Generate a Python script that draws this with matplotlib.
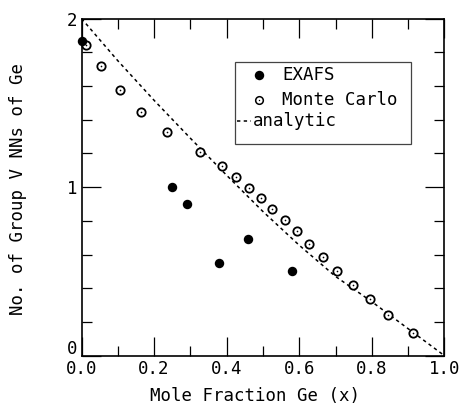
import matplotlib
matplotlib.use("Agg")
import matplotlib.pyplot as plt
from matplotlib.patches import Rectangle
from matplotlib.ticker import MultipleLocator

# EXAFS measurements
exafs_x = [0.0, 0.25, 0.29, 0.38, 0.46, 0.58]
exafs_y = [1.87, 1.00, 0.90, 0.55, 0.69, 0.50]

# Monte Carlo simulation
mc_x = [0.012, 0.053, 0.106, 0.163, 0.235, 0.326, 0.387, 0.426, 0.462, 0.494,
        0.525, 0.561, 0.594, 0.628, 0.664, 0.705, 0.747, 0.795, 0.845, 0.912]
mc_y = [1.845, 1.719, 1.575, 1.446, 1.326, 1.211, 1.126, 1.062, 0.997, 0.938,
        0.872, 0.807, 0.740, 0.663, 0.588, 0.503, 0.420, 0.335, 0.242, 0.133]

# analytic curve
an_x = [0.0, 0.1, 0.2, 0.3, 0.4, 0.5, 0.6, 0.7, 0.8, 0.9, 1.0]
an_y = [2.0, 1.75, 1.515, 1.29, 1.07, 0.855, 0.655, 0.47, 0.32, 0.16, 0.0]

plt.rcParams['font.family'] = ['DejaVu Sans Mono']
plt.rcParams['font.size'] = 12.5

fig = plt.figure(figsize=(4.59, 4.05), dpi=100)
ax = fig.add_axes([0.1776, 0.1217, 0.7908, 0.8324])

dash = (0, (2.2, 2.2))
ax.plot(an_x, an_y, color='black', lw=1.1, linestyle=dash)
ax.plot(mc_x, mc_y, 'o', mfc='white', mec='black', ms=6, mew=1.3, clip_on=False)
ax.plot(mc_x, mc_y, 'o', color='black', ms=1.2, mew=0, clip_on=False)
ax.plot(exafs_x, exafs_y, 'o', color='black', ms=6.8, mew=0, clip_on=False)

ax.set_xlim(0, 1.0)
ax.set_ylim(0, 2)
ax.xaxis.set_major_locator(MultipleLocator(0.2))
ax.xaxis.set_minor_locator(MultipleLocator(0.1))
ax.yaxis.set_major_locator(MultipleLocator(1))
ax.yaxis.set_minor_locator(MultipleLocator(0.2))
ax.xaxis.set_major_formatter(plt.FuncFormatter(lambda v, p: f"{v:.1f}"))
# the "0" on the y axis is placed by hand, a bit above the axis
ax.yaxis.set_major_formatter(plt.FuncFormatter(lambda v, p: "" if v == 0 else f"{v:.0f}"))
ax.tick_params(which='both', direction='in', top=True, right=True, width=0.9)
ax.tick_params(which='major', length=14, pad=3)
ax.tick_params(which='minor', length=7)
for s in ax.spines.values():
    s.set_linewidth(1.2)
ax.annotate("0", xy=(0, 0), xycoords='axes fraction', xytext=(-3, 5),
            textcoords='offset points', ha='right', va='center')

ax.set_xlabel("Mole Fraction Ge (x)")
ax.xaxis.set_label_coords(0.479, -0.12)
ax.xaxis.label.set_va('center')
ax.set_ylabel("No. of Group V NNs of Ge")
ax.yaxis.set_label_coords(-0.176, 0.494)
ax.yaxis.label.set_va('center')

# legend box drawn by hand
ax.add_patch(Rectangle((0.423, 0.628), 0.485, 0.243, transform=ax.transAxes,
                       fill=False, edgecolor='#444444', lw=0.9))
ax.plot([0.489], [0.833], 'o', color='black', ms=6.8, mew=0, transform=ax.transAxes)
ax.plot([0.489], [0.758], 'o', mfc='white', mec='black', ms=5.5, mew=1.1,
        transform=ax.transAxes)
ax.plot([0.489], [0.758], 'o', color='black', ms=1.0, mew=0, transform=ax.transAxes)
ax.plot([0.428, 0.468], [0.697, 0.697], color='black', lw=1.1, linestyle=dash,
        transform=ax.transAxes)
ax.text(0.552, 0.833, "EXAFS", transform=ax.transAxes, va='center', ha='left')
ax.text(0.552, 0.758, "Monte Carlo", transform=ax.transAxes, va='center', ha='left')
ax.text(0.472, 0.697, "analytic", transform=ax.transAxes, va='center', ha='left')

fig.savefig("out.png", dpi=100)
